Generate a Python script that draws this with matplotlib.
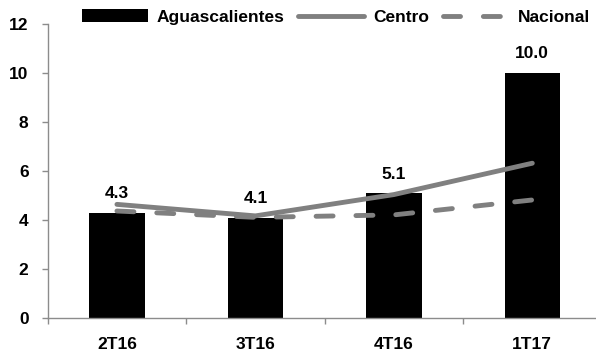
import matplotlib
matplotlib.use("Agg")
import matplotlib.pyplot as plt
from matplotlib.patches import Rectangle
from matplotlib.legend_handler import HandlerPatch
import numpy as np

categories = ["2T16", "3T16", "4T16", "1T17"]
aguascalientes = [4.3, 4.1, 5.1, 10.0]
centro = [4.65, 4.18, 5.05, 6.33]
nacional = [4.38, 4.12, 4.22, 4.83]
bar_labels = ["4.3", "4.1", "5.1", "10.0"]
yticks = [0, 2, 4, 6, 8, 10, 12]

plt.rcParams['font.family'] = ['Liberation Sans', 'DejaVu Sans']
plt.rcParams['font.weight'] = 'bold'
FS = 12.5

W, H = 596, 356
fig = plt.figure(figsize=(W / 100, H / 100), dpi=100)
left_px, bottom_px, top_px = 47.7, 318.3, 24.3
ax = fig.add_axes([left_px / W, 1 - bottom_px / H, 1 - left_px / W, (bottom_px - top_px) / H])

x = np.arange(len(categories))
grey = "#808080"
spine_grey = "#8c8c8c"
ax.bar(x, aguascalientes, width=0.4, color="black", label="Aguascalientes", zorder=2)
ax.plot(x, centro, color=grey, lw=3.5, solid_capstyle='round', label="Centro", zorder=3)
ax.plot(x, nacional, color=grey, lw=3.5, dashes=(3.5, 4.7), dash_capstyle='round',
        label="Nacional", zorder=3)

for xi, v, t in zip(x, aguascalientes, bar_labels):
    ax.annotate(t, (xi, v), xytext=(0, 8.5), textcoords="offset points",
                ha="center", va="bottom", fontsize=FS, fontweight="bold")

ax.set_ylim(0, 12)
ax.set_xlim(-0.5, 3.46)
ax.set_yticks(yticks)
ax.set_yticklabels([str(t) for t in yticks], fontsize=FS, fontweight="bold")
ax.set_xticks(x)
ax.set_xticklabels(categories, fontsize=FS, fontweight="bold")
ax.tick_params(axis='x', which='major', length=0, pad=13.5)
ax.set_xticks(np.arange(-0.5, 3.0, 1.0), minor=True)
ax.tick_params(axis='x', which='minor', length=4, direction='out', color=spine_grey, width=1)
ax.tick_params(axis='y', length=4.3, direction='out', color=spine_grey, width=1, pad=9.5)

for s in ["top", "right"]:
    ax.spines[s].set_visible(False)
for s in ["left", "bottom"]:
    ax.spines[s].set_color(spine_grey)
    ax.spines[s].set_linewidth(1)


class ThinBar(HandlerPatch):
    def create_artists(self, legend, orig_handle, xdescent, ydescent, width, height, fontsize, trans):
        h = height * 0.62
        r = Rectangle((-xdescent, -ydescent + (height - h) / 2), width, h,
                      facecolor="black", edgecolor="none", transform=trans)
        return [r]


handles, labels = ax.get_legend_handles_labels()
order = [labels.index(n) for n in ["Aguascalientes", "Centro", "Nacional"]]
handles = [handles[i] for i in order]
labels = [labels[i] for i in order]
fig.legend(handles, labels, loc="center left", bbox_to_anchor=(82 / W, 1 - 17 / H), ncol=3,
           frameon=False, handlelength=3.8, handletextpad=0.5,
           columnspacing=0.8, borderpad=0, borderaxespad=0,
           handler_map={Rectangle: ThinBar()},
           prop={'weight': 'bold', 'size': FS})

fig.savefig("out.png", dpi=100)
